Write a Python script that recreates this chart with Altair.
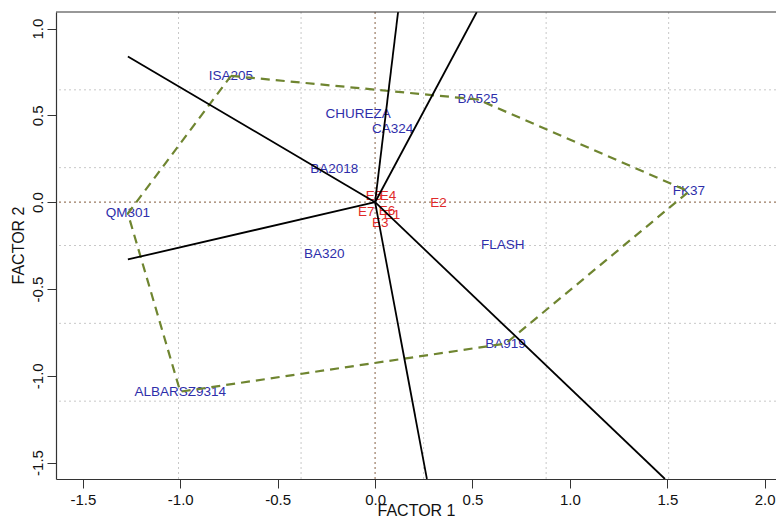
import altair as alt
import pandas as pd

# Genotypes (blue labels)
gen_names = ["ISA205", "BA525", "FK37", "BA919", "ALBARSZ9314", "QM301",
             "CHUREZA", "CA324", "BA2018", "BA320", "FLASH"]
gen_x = [-0.740, 0.527, 1.611, 0.670, -1.000, -1.269, -0.087, 0.090, -0.210, -0.261, 0.655]
gen_y = [0.728, 0.592, 0.062, -0.815, -1.092, -0.065, 0.506, 0.419, 0.189, -0.296, -0.244]

# Environments (red labels)
env_names = ["E5", "E4", "E2", "E7", "E6", "E1", "E3"]
env_x = [-0.005, 0.066, 0.325, -0.046, 0.061, 0.087, 0.026]
env_y = [0.033, 0.033, -0.002, -0.054, -0.048, -0.071, -0.117]

# Convex hull (polygon) vertices, in drawing order
hull_order = ["ISA205", "BA525", "FK37", "BA919", "ALBARSZ9314", "QM301", "ISA205"]

# Rays from the origin (end points)
ray_x_end = [-1.269, -1.269, 0.118, 0.522, 0.266, 1.488]
ray_y_end = [0.840, -0.330, 1.096, 1.096, -1.595, -1.595]

# Grid lines (R grid(): equal divisions of the plot region)
grid_x = [-1.009, -0.380, 0.249, 0.878, 1.507]
grid_y = [0.6475, 0.199, -0.2495, -0.698, -1.1465]

x_ticks = [-1.5, -1.0, -0.5, 0.0, 0.5, 1.0, 1.5, 2.0]
y_ticks = [-1.5, -1.0, -0.5, 0.0, 0.5, 1.0]

X_DOMAIN = [-1.638, 2.058]
Y_DOMAIN = [-1.595, 1.096]

FONT = "Liberation Sans"
BLUE = "#2e2eaa"
RED = "#e02a2a"
OLIVE = "#6f8530"
FRAME = "#333333"
LABEL_EXPR = "replace(format(datum.value, '.1f'), '\u2212', '-')"

W, H = 720, 467

gen_df = pd.DataFrame({"name": gen_names, "x": gen_x, "y": gen_y})
env_df = pd.DataFrame({"name": env_names, "x": env_x, "y": env_y})
pos = {n: (x, y) for n, x, y in zip(gen_names, gen_x, gen_y)}
hull_df = pd.DataFrame({
    "ord": list(range(len(hull_order))),
    "x": [pos[n][0] for n in hull_order],
    "y": [pos[n][1] for n in hull_order],
})
ray_df = pd.DataFrame({"x0": [0.0] * len(ray_x_end), "y0": [0.0] * len(ray_x_end),
                       "x1": ray_x_end, "y1": ray_y_end})
gx_df = pd.DataFrame({"v": grid_x})
gy_df = pd.DataFrame({"v": grid_y})
zero_df = pd.DataFrame({"v": [0.0]})

xs = alt.Scale(domain=X_DOMAIN, nice=False, zero=False)
ys = alt.Scale(domain=Y_DOMAIN, nice=False, zero=False)

x_axis = alt.Axis(values=x_ticks, labelExpr=LABEL_EXPR, grid=False, tickSize=9, tickColor=FRAME,
                  domainColor=FRAME, domainWidth=1.2, labelFont=FONT, labelFontSize=15,
                  labelColor="#111", labelPadding=4, title="FACTOR 1", titleFont=FONT,
                  titleFontSize=16, titleFontWeight="normal", titleColor="#111",
                  titleBaseline="alphabetic", titleY=36)
y_axis = alt.Axis(values=y_ticks, labelExpr=LABEL_EXPR, grid=False, tickSize=9, tickColor=FRAME,
                  domainColor=FRAME, domainWidth=1.2, labelFont=FONT, labelFontSize=15,
                  labelColor="#111", labelAngle=270, labelAlign="center", labelBaseline="bottom",
                  labelPadding=2, title="FACTOR 2", titleFont=FONT, titleFontSize=16,
                  titleFontWeight="normal", titleColor="#111", titleAngle=270,
                  titleAlign="center", titleBaseline="middle", titleX=-38, titleY=233)

base_axes = alt.Chart(zero_df).mark_point(opacity=0).encode(
    x=alt.X("v:Q", scale=xs, axis=x_axis),
    y=alt.Y("v:Q", scale=ys, axis=y_axis),
)

top_border = alt.Chart(zero_df).mark_rule(color=FRAME, strokeWidth=1.2).encode(
    x=alt.value(0), x2=alt.value(W), y=alt.value(0))

grid_v = alt.Chart(gx_df).mark_rule(color="#c8c8c8", strokeDash=[2, 3], strokeWidth=1).encode(
    x=alt.X("v:Q", scale=xs))
grid_h = alt.Chart(gy_df).mark_rule(color="#c8c8c8", strokeDash=[2, 3], strokeWidth=1).encode(
    y=alt.Y("v:Q", scale=ys))
zero_v = alt.Chart(zero_df).mark_rule(color="#9a7a62", strokeDash=[2, 3], strokeWidth=1.2).encode(
    x=alt.X("v:Q", scale=xs))
zero_h = alt.Chart(zero_df).mark_rule(color="#9a7a62", strokeDash=[2, 3], strokeWidth=1.2).encode(
    y=alt.Y("v:Q", scale=ys))

gen_text = alt.Chart(gen_df).mark_text(font=FONT, fontSize=13.5, color=BLUE,
                                       align="center", baseline="middle").encode(
    x=alt.X("x:Q", scale=xs), y=alt.Y("y:Q", scale=ys), text="name:N")
env_text = alt.Chart(env_df).mark_text(font=FONT, fontSize=13.5, color=RED,
                                       align="center", baseline="middle").encode(
    x=alt.X("x:Q", scale=xs), y=alt.Y("y:Q", scale=ys), text="name:N")

hull = alt.Chart(hull_df).mark_line(color=OLIVE, strokeDash=[9, 6], strokeWidth=2.2).encode(
    x=alt.X("x:Q", scale=xs), y=alt.Y("y:Q", scale=ys), order="ord:Q")

rays = alt.Chart(ray_df).mark_rule(color="#000", strokeWidth=1.8, clip=True).encode(
    x=alt.X("x0:Q", scale=xs), y=alt.Y("y0:Q", scale=ys),
    x2="x1:Q", y2="y1:Q")

chart = alt.layer(base_axes, grid_v, grid_h, zero_v, zero_h, gen_text, env_text, hull, rays,
                  top_border).properties(
    width=W, height=H,
    autosize=alt.AutoSizeParams(type="none"),
    padding={"left": 48, "top": 4, "right": 0, "bottom": 40},
).configure_view(stroke=None)

chart.save("out.html", embed_options={"renderer": "svg", "actions": False})
